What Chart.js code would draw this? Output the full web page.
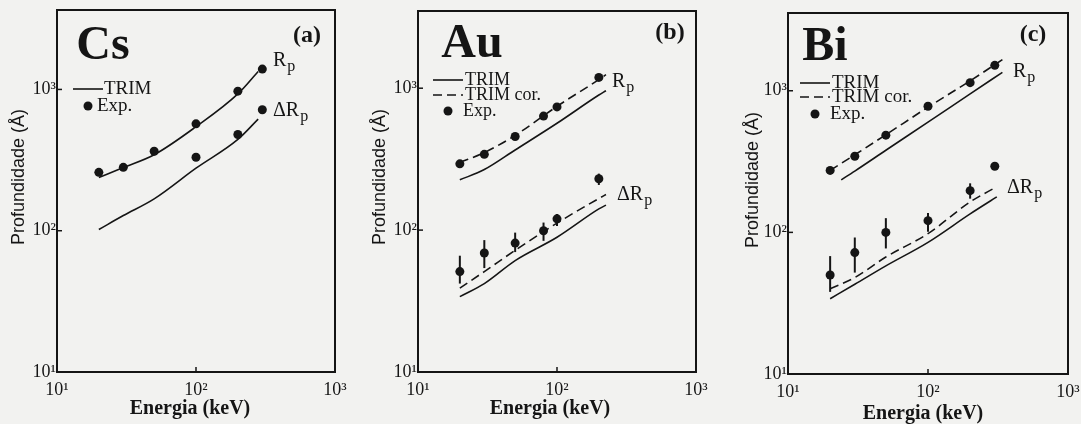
<!DOCTYPE html>
<html>
<head>
<meta charset="utf-8">
<script src="https://cdn.jsdelivr.net/npm/chart.js@4.4.0/dist/chart.umd.min.js"></script>
<style>
  html, body { margin: 0; padding: 0; background: #f2f2f0; }
  #wrap { position: relative; width: 1081px; height: 424px; overflow: hidden; }
  canvas { position: absolute; top: 0; }
</style>
</head>
<body>
<div id="wrap">
  <canvas id="canvas-a" width="360" height="424" style="left:0px;width:360px;height:424px"></canvas>
  <canvas id="canvas-b" width="360" height="424" style="left:360px;width:360px;height:424px"></canvas>
  <canvas id="canvas-c" width="361" height="424" style="left:720px;width:361px;height:424px"></canvas>
</div>
<script>
// tick labels (both axes)
var tickVals = [10, 100, 1000];
var tickText = ['10\u00b9', '10\u00b2', '10\u00b3'];

// (a) Cs
var csE = [20, 30, 50, 100, 200, 300];
var csRpExp = [259, 281, 365, 571, 972, 1393];
var csDRpE = [100, 200, 300];
var csDRpExp = [331, 480, 718];
var csLineE = [20, 30, 50, 100, 200, 280];
var csRpTrim = [238, 280, 345, 545, 930, 1340];
var csDRpTrim = [102, 128, 168, 277, 443, 617];

// (b) Au
var auE = [20, 30, 50, 80, 100, 200];
var auRpExp = [293, 342, 457, 636, 738, 1192];
var auDRpExp = [51, 69, 81, 99, 120, 230];
var auDRpLo = [42, 54, 70, 84, 107, 208];
var auDRpHi = [66, 85, 96, 113, 130, 250];
var auLineE = [20, 30, 50, 100, 200, 225];
var auRpTrim = [226, 267, 367, 566, 895, 960];
var auRpCor = [300, 352, 465, 745, 1150, 1245];
var auDRpTrim = [34, 42, 61, 89, 141, 150];
var auDRpCor = [39, 51, 72, 112, 167, 178];

// (c) Bi
var biE = [20, 30, 50, 100, 200, 300];
var biRpExp = [274, 345, 486, 777, 1141, 1512];
var biDRpExp = [50, 72, 100, 121, 197, 293];
var biDRpLo = [38, 52, 77, 101, 173, 293];
var biDRpHi = [68, 92, 126, 137, 222, 293];
var biRpTrimE = [24, 30, 50, 100, 200, 340];
var biRpTrim = [235, 271, 380, 600, 950, 1349];
var biRpCorE = [20, 30, 50, 100, 200, 340];
var biRpCor = [274, 353, 489, 766, 1175, 1660];
var biDRpLineE = [20, 30, 50, 100, 200, 310];
var biDRpTrim = [34, 43, 58, 85, 135, 178];
var biDRpCor = [40, 48, 67, 98, 164, 210];

var INK = '#151515';
var SERIF = '"Liberation Serif", "DejaVu Serif", serif';
var SANS = '"Liberation Sans", Arial, sans-serif';

function pts(xs, ys) {
  return xs.map(function (x, i) { return { x: x, y: ys[i] }; });
}

function lineSet(xs, ys, dashed) {
  return {
    data: pts(xs, ys), showLine: true, pointRadius: 0,
    borderColor: INK, borderWidth: 1.6, borderDash: dashed ? [9, 5] : [],
    cubicInterpolationMode: 'monotone', fill: false
  };
}

function dotSet(xs, ys) {
  return {
    data: pts(xs, ys), showLine: false, pointRadius: 4.5,
    pointBackgroundColor: INK, pointBorderColor: INK, pointBorderWidth: 0
  };
}

function txt(ctx, s, x, y, font, align) {
  ctx.font = font;
  ctx.textAlign = align || 'left';
  ctx.textBaseline = 'middle';
  ctx.fillText(s, x, y);
}

function rpLabel(ctx, x, y, delta) {
  ctx.fillStyle = INK;
  var f = '20px ' + SERIF;
  ctx.font = f;
  var s = delta ? '\u0394R' : 'R';
  txt(ctx, s, x, y, f);
  var w = ctx.measureText(s).width;
  txt(ctx, 'p', x + w + 1, y + 6, '16px ' + SERIF);
}

var panelPlugin = {
  id: 'panel',
  beforeDatasetsDraw: function (chart) {
    var p = chart.options.plugins.panel;
    var ctx = chart.ctx, xs = chart.scales.x, ys = chart.scales.y;
    ctx.save();
    ctx.strokeStyle = INK;
    ctx.lineWidth = 2;
    (p.errors || []).forEach(function (e) {
      e.x.forEach(function (xv, i) {
        var px = xs.getPixelForValue(xv);
        ctx.beginPath();
        ctx.moveTo(px, ys.getPixelForValue(e.lo[i]));
        ctx.lineTo(px, ys.getPixelForValue(e.hi[i]));
        ctx.stroke();
      });
    });
    ctx.restore();
  },
  afterDraw: function (chart) {
    var p = chart.options.plugins.panel;
    var ctx = chart.ctx, a = chart.chartArea;
    var xs = chart.scales.x, ys = chart.scales.y;
    ctx.save();
    ctx.strokeStyle = INK;
    ctx.fillStyle = INK;
    // frame
    ctx.lineWidth = 2;
    ctx.strokeRect(a.left, a.top, a.right - a.left, a.bottom - a.top);
    // inward ticks
    ctx.lineWidth = 1.5;
    [100].forEach(function (v) {
      var px = xs.getPixelForValue(v);
      ctx.beginPath(); ctx.moveTo(px, a.bottom); ctx.lineTo(px, a.bottom - 5); ctx.stroke();
    });
    [100, 1000].forEach(function (v) {
      var py = ys.getPixelForValue(v);
      ctx.beginPath(); ctx.moveTo(a.left, py); ctx.lineTo(a.left + 5, py); ctx.stroke();
    });
    // element + panel letter
    txt(ctx, p.elem, p.elemPos[0], p.elemPos[1], 'bold 48px ' + SERIF, 'center');
    txt(ctx, p.tag, p.tagPos[0], p.tagPos[1], 'bold 24px ' + SERIF, 'center');
    rpLabel(ctx, p.rpPos[0], p.rpPos[1], false);
    rpLabel(ctx, p.drpPos[0], p.drpPos[1], true);
    // legend
    var lg = p.legend;
    ctx.lineWidth = 1.6;
    lg.items.forEach(function (it) {
      if (it.kind === 'dot') {
        ctx.beginPath();
        ctx.arc(lg.x0 + 15, it.y, 4.5, 0, Math.PI * 2);
        ctx.fill();
      } else {
        ctx.setLineDash(it.kind === 'dash' ? [9, 5] : []);
        ctx.beginPath(); ctx.moveTo(lg.x0, it.y); ctx.lineTo(lg.x0 + 30, it.y); ctx.stroke();
        ctx.setLineDash([]);
      }
      txt(ctx, it.text, it.tx, it.y, lg.font);
    });
    // axis titles
    txt(ctx, 'Energia (keV)', p.xTitle[0], p.xTitle[1], 'bold 20px ' + SERIF, 'center');
    ctx.translate(p.yTitle[0], p.yTitle[1]);
    ctx.rotate(-Math.PI / 2);
    txt(ctx, 'Profundidade (\u00c5)', 0, 0, '18px ' + SANS, 'center');
    ctx.restore();
  }
};

function makeChart(id, datasets, panel) {
  return new Chart(document.getElementById(id), {
    type: 'scatter',
    data: { datasets: datasets },
    options: {
      responsive: false,
      animation: false,
      layout: { padding: { left: 0, top: panel.top, right: panel.right, bottom: 0 } },
      plugins: { legend: { display: false }, tooltip: { enabled: false }, panel: panel },
      scales: {
        x: {
          type: 'logarithmic', min: 10, max: 1000,
          grid: { display: false, drawTicks: false }, border: { display: false },
          ticks: {
            color: INK, font: { family: SERIF, size: 18 }, padding: 7,
            autoSkip: false, maxRotation: 0,
            callback: function (v) { var i = tickVals.indexOf(v); return i < 0 ? '' : tickText[i]; }
          },
          afterBuildTicks: function (s) { s.ticks = tickVals.map(function (v) { return { value: v }; }); },
          afterFit: function (s) { s.height = panel.xh; s.paddingLeft = 0; s.paddingRight = 0; }
        },
        y: {
          type: 'logarithmic', min: 10, max: panel.ymax,
          grid: { display: false, drawTicks: false }, border: { display: false },
          ticks: {
            color: INK, font: { family: SERIF, size: 18 }, padding: 1,
            autoSkip: false,
            callback: function (v) { var i = tickVals.indexOf(v); return i < 0 ? '' : tickText[i]; }
          },
          afterBuildTicks: function (s) { s.ticks = tickVals.map(function (v) { return { value: v }; }); },
          afterFit: function (s) { s.width = panel.yw; s.paddingTop = 0; s.paddingBottom = 0; }
        }
      }
    },
    plugins: [panelPlugin]
  });
}

// (a) Cs
makeChart('canvas-a', [
  lineSet(csLineE, csRpTrim, false),
  lineSet(csLineE, csDRpTrim, false),
  dotSet(csE, csRpExp),
  dotSet(csDRpE, csDRpExp)
], {
  top: 10, right: 25, yw: 57, xh: 52, ymax: 3650,
  elem: 'Cs', elemPos: [103, 47], tag: '(a)', tagPos: [307, 36],
  rpPos: [273, 61], drpPos: [273, 111],
  legend: { x0: 73, font: '19px ' + SERIF, items: [
    { kind: 'line', y: 89, text: 'TRIM', tx: 104 },
    { kind: 'dot', y: 106, text: 'Exp.', tx: 97 }
  ] },
  xTitle: [190, 409], yTitle: [19, 177]
});

// (b) Au
makeChart('canvas-b', [
  lineSet(auLineE, auRpTrim, false),
  lineSet(auLineE, auRpCor, true),
  lineSet(auLineE, auDRpTrim, false),
  lineSet(auLineE, auDRpCor, true),
  dotSet(auE, auRpExp),
  dotSet(auE, auDRpExp)
], {
  top: 11, right: 24, yw: 58, xh: 52, ymax: 3500,
  errors: [{ x: auE, lo: auDRpLo, hi: auDRpHi }],
  elem: 'Au', elemPos: [112, 45], tag: '(b)', tagPos: [310, 33],
  rpPos: [252, 82], drpPos: [257, 195],
  legend: { x0: 73, font: '18px ' + SERIF, items: [
    { kind: 'line', y: 80, text: 'TRIM', tx: 105 },
    { kind: 'dash', y: 95, text: 'TRIM cor.', tx: 105 },
    { kind: 'dot', y: 111, text: 'Exp.', tx: 103 }
  ] },
  xTitle: [190, 409], yTitle: [20, 177]
});

// (c) Bi
makeChart('canvas-c', [
  lineSet(biRpTrimE, biRpTrim, false),
  lineSet(biRpCorE, biRpCor, true),
  lineSet(biDRpLineE, biDRpTrim, false),
  lineSet(biDRpLineE, biDRpCor, true),
  dotSet(biE, biRpExp),
  dotSet(biE, biDRpExp)
], {
  top: 13, right: 13, yw: 68, xh: 50, ymax: 3540,
  errors: [{ x: biE, lo: biDRpLo, hi: biDRpHi }],
  elem: 'Bi', elemPos: [105, 48], tag: '(c)', tagPos: [313, 35],
  rpPos: [293, 72], drpPos: [287, 188],
  legend: { x0: 80, font: '19px ' + SERIF, items: [
    { kind: 'line', y: 83, text: 'TRIM', tx: 112 },
    { kind: 'dash', y: 97, text: 'TRIM cor.', tx: 112 },
    { kind: 'dot', y: 114, text: 'Exp.', tx: 110 }
  ] },
  xTitle: [203, 414], yTitle: [33, 180]
});
</script>
</body>
</html>
